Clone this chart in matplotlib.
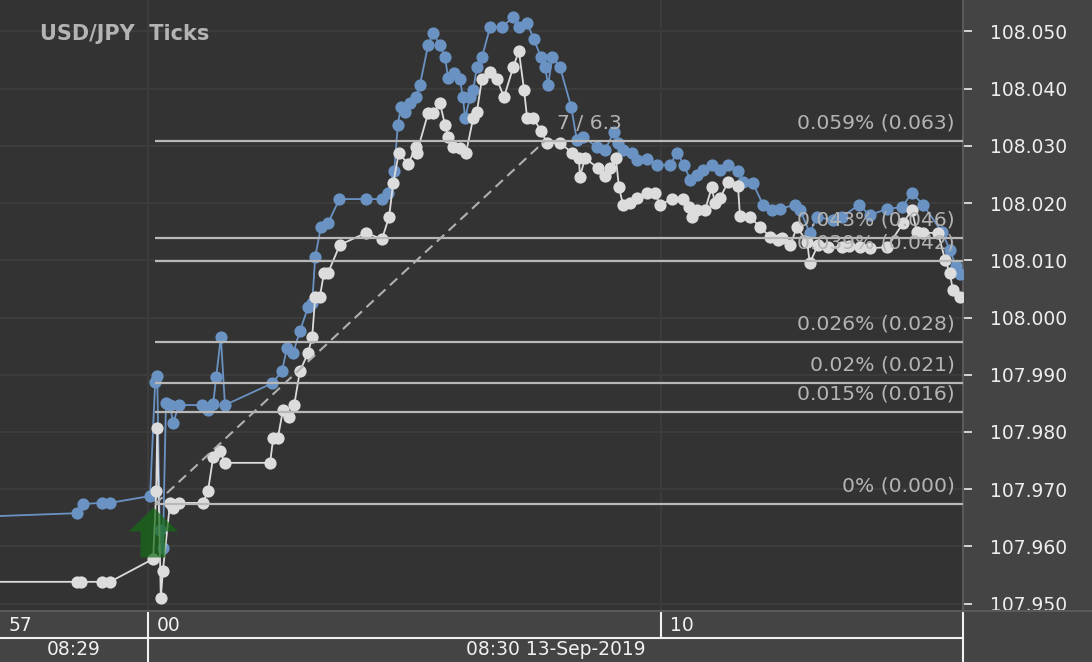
import matplotlib
matplotlib.use('Agg')
import matplotlib.pyplot as plt
from matplotlib.path import Path

# ---------------- data ----------------
# time in seconds relative to 08:30:00, price in JPY
ask_t = [-3.5, -1.38, -1.27, -0.90, -0.74, 0.04, 0.14, 0.18, 0.23, 0.29, 0.35, 0.43, 0.49, 0.60,
         1.06, 1.17, 1.27, 1.33, 1.42, 1.50, 2.42, 2.61, 2.71, 2.83, 2.96, 3.12, 3.20, 3.26, 3.37,
         3.51, 3.73, 4.25, 4.56, 4.68, 4.80, 4.87, 4.93, 5.01, 5.11, 5.22, 5.30, 5.46, 5.56, 5.69,
         5.79, 5.85, 5.97, 6.08, 6.14, 6.18, 6.28, 6.34, 6.41, 6.51, 6.67, 6.90, 7.12, 7.23, 7.39,
         7.52, 7.66, 7.74, 7.80, 7.88, 8.03, 8.25, 8.36, 8.48, 8.75, 8.91, 9.08, 9.16, 9.26, 9.44,
         9.53, 9.73, 9.92, 10.18, 10.31, 10.45, 10.57, 10.70, 10.82, 10.99, 11.15, 11.31, 11.50,
         11.60, 11.79, 11.99, 12.16, 12.32, 12.61, 12.71, 12.90, 13.04, 13.35, 13.53, 13.86, 14.07,
         14.41, 14.70, 14.89, 15.11, 15.48, 15.63, 15.75, 15.83]
ask_p = [107.9651, 107.9658, 107.9674, 107.9676, 107.9676, 107.9688, 107.9887, 107.9898, 107.9628,
         107.9597, 107.9850, 107.9847, 107.9815, 107.9847, 107.9847, 107.9838, 107.9849, 107.9896,
         107.9966, 107.9847, 107.9885, 107.9906, 107.9947, 107.9938, 107.9976, 108.0018, 108.0025,
         108.0106, 108.0158, 108.0165, 108.0207, 108.0207, 108.0207, 108.0218, 108.0256, 108.0337,
         108.0368, 108.0359, 108.0375, 108.0385, 108.0406, 108.0476, 108.0497, 108.0476, 108.0455,
         108.0419, 108.0427, 108.0417, 108.0385, 108.0349, 108.0385, 108.0398, 108.0438, 108.0455,
         108.0508, 108.0508, 108.0525, 108.0508, 108.0515, 108.0487, 108.0455, 108.0438, 108.0406,
         108.0455, 108.0438, 108.0368, 108.0310, 108.0316, 108.0298, 108.0293, 108.0324, 108.0305,
         108.0293, 108.0288, 108.0275, 108.0277, 108.0267, 108.0267, 108.0288, 108.0267, 108.0240,
         108.0249, 108.0258, 108.0267, 108.0258, 108.0267, 108.0256, 108.0237, 108.0235, 108.0197,
         108.0188, 108.0190, 108.0197, 108.0188, 108.0148, 108.0176, 108.0170, 108.0176, 108.0197,
         108.0179, 108.0190, 108.0193, 108.0218, 108.0197, 108.0149, 108.0118, 108.0090, 108.0076]

bid_t = [-3.5, -1.38, -1.30, -0.90, -0.74, 0.10, 0.16, 0.18, 0.25, 0.29, 0.43, 0.49, 0.60, 1.07,
         1.17, 1.27, 1.40, 1.50, 2.38, 2.44, 2.53, 2.63, 2.75, 2.85, 2.96, 3.12, 3.20, 3.26, 3.35,
         3.43, 3.51, 3.74, 4.25, 4.56, 4.70, 4.78, 4.89, 5.07, 5.22, 5.24, 5.46, 5.56, 5.69, 5.79,
         5.85, 5.95, 6.08, 6.20, 6.34, 6.41, 6.51, 6.67, 6.80, 6.94, 7.12, 7.23, 7.33, 7.39, 7.51,
         7.66, 7.78, 8.03, 8.27, 8.40, 8.42, 8.52, 8.77, 8.91, 9.01, 9.12, 9.18, 9.26, 9.40, 9.53,
         9.73, 9.88, 9.98, 10.21, 10.43, 10.55, 10.60, 10.70, 10.86, 10.99, 11.05, 11.15, 11.31,
         11.50, 11.54, 11.74, 11.93, 12.13, 12.28, 12.36, 12.52, 12.65, 12.85, 12.90, 13.06, 13.26,
         13.53, 13.67, 13.88, 14.07, 14.41, 14.72, 14.89, 14.99, 15.11, 15.40, 15.54, 15.63, 15.69,
         15.83]
bid_p = [107.9538, 107.9538, 107.9538, 107.9538, 107.9538, 107.9578, 107.9697, 107.9807, 107.9510,
         107.9557, 107.9676, 107.9667, 107.9676, 107.9676, 107.9697, 107.9756, 107.9767, 107.9746,
         107.9746, 107.9789, 107.9789, 107.9838, 107.9826, 107.9847, 107.9906, 107.9938, 107.9966,
         108.0036, 108.0036, 108.0078, 108.0078, 108.0127, 108.0148, 108.0137, 108.0176, 108.0235,
         108.0288, 108.0268, 108.0298, 108.0288, 108.0357, 108.0357, 108.0375, 108.0337, 108.0316,
         108.0298, 108.0296, 108.0288, 108.0349, 108.0359, 108.0417, 108.0429, 108.0417, 108.0385,
         108.0438, 108.0466, 108.0398, 108.0349, 108.0349, 108.0326, 108.0305, 108.0305, 108.0288,
         108.0279, 108.0246, 108.0279, 108.0261, 108.0247, 108.0261, 108.0279, 108.0228, 108.0197,
         108.0200, 108.0209, 108.0218, 108.0218, 108.0197, 108.0207, 108.0207, 108.0193, 108.0176,
         108.0188, 108.0188, 108.0228, 108.0200, 108.0209, 108.0237, 108.0230, 108.0177, 108.0176,
         108.0158, 108.0141, 108.0135, 108.0139, 108.0127, 108.0158, 108.0132, 108.0095, 108.0127,
         108.0123, 108.0123, 108.0125, 108.0123, 108.0121, 108.0123, 108.0165, 108.0188, 108.0149,
         108.0148, 108.0148, 108.0100, 108.0078, 108.0048, 108.0036]

fib_levels = [107.9674, 107.9835, 107.9886, 107.9957, 108.0099, 108.0139, 108.0309]
fib_labels = ["0% (0.000)", "0.015% (0.016)", "0.02% (0.021)", "0.026% (0.028)",
              "0.039% (0.042)", "0.043% (0.046)", "0.059% (0.063)"]
fib_start_t = 0.14
trend_t = [0.14, 7.74]
trend_p = [107.9674, 108.0309]
trend_label = "7 / 6.3"
signal_t = [0.088]
signal_p = [107.9625]

price_ticks = [107.950, 107.960, 107.970, 107.980, 107.990, 108.000,
               108.010, 108.020, 108.030, 108.040, 108.050]
price_labels = ["107.950", "107.960", "107.970", "107.980", "107.990", "108.000",
                "108.010", "108.020", "108.030", "108.040", "108.050"]
minor_ticks = [-3, 0, 10]
minor_labels = ["57", "00", "10"]
major_labels = ["08:29", "08:30 13-Sep-2019"]
title = "USD/JPY  Ticks"

# ---------------- style ----------------
W, H = 1092, 662
BG_PLOT = '#333333'
BG_PANEL = '#444444'
BLUE = '#6a93c4'
WHITE = '#dcdcdc'
FIB = '#b8b8b8'
TXT = '#b4b4b4'
TICKTXT = '#eeeeee'

xmin, xmax = -2.885, 15.887
ymin, ymax = 107.9487, 108.0555

fig = plt.figure(figsize=(W / 100, H / 100), dpi=100, facecolor=BG_PANEL)
plot_w, plot_h = 963, 611
ax = fig.add_axes([0, (H - plot_h) / H, plot_w / W, plot_h / H])
ax.set_facecolor(BG_PLOT)
ax.set_xlim(xmin, xmax)
ax.set_ylim(ymin, ymax)

ax.set_yticks(price_ticks)
ax.set_yticklabels(price_labels)
ax.set_xticks([0, 10])
ax.yaxis.tick_right()
ax.tick_params(axis='y', length=6.5, width=1.3, color='#e0e0e0', pad=13,
               labelcolor=TICKTXT, labelsize=13.5)
ax.tick_params(axis='x', length=0, labelbottom=False)
ax.grid(True, color='#3c3c3c', lw=1.5, zorder=0)
ax.set_axisbelow(True)
for s in ['top', 'left']:
    ax.spines[s].set_visible(False)
for s in ['right', 'bottom']:
    ax.spines[s].set_color('#5a5a5a')
    ax.spines[s].set_linewidth(1.5)

# series
ax.plot(ask_t, ask_p, '-o', color=BLUE, lw=1.3, ms=8.8, mec=BLUE, mew=0, zorder=3)
ax.plot(bid_t, bid_p, '-o', color=WHITE, lw=1.3, ms=8.8, mec=WHITE, mew=0, zorder=3.5)

# fib levels
for lvl, lbl in zip(fib_levels, fib_labels):
    ax.plot([fib_start_t, xmax], [lvl, lvl], color=FIB, lw=1.6, zorder=5, solid_capstyle='butt')
    ax.annotate(lbl, (15.73, lvl), xytext=(0, 13), textcoords='offset points',
                ha='right', va='center', color=TXT, fontsize=14.6, zorder=6)

# trend line
ax.plot(trend_t, trend_p, color='#b0b0b0', lw=1.5, ls=(0, (4.8, 2.9)), zorder=5)
ax.text(7.97, 108.0340, trend_label, ha='left', va='center', color=TXT, fontsize=14.6, zorder=6)

# signal arrow
arrow_verts = [(0, 25), (24.5, 1), (12, 1), (12, -25), (-13, -25), (-13, 1), (-24.5, 1), (0, 25)]
arrow_path = Path(arrow_verts, closed=True)
ax.plot(signal_t, signal_p, ls='none', marker=arrow_path, ms=36,
        color=(21 / 255, 107 / 255, 21 / 255), alpha=0.7, mew=0, zorder=7)

# title
ax.text(40 / plot_w, 1 - 34 / plot_h, title, transform=ax.transAxes, ha='left', va='center',
        color=TXT, fontsize=15, fontweight='bold', zorder=8)

# ---------------- bottom time panel ----------------
panel_h = H - plot_h
bax = fig.add_axes([0, 0, 1, panel_h / H])
bax.set_facecolor(BG_PANEL)
xfull = xmin + (xmax - xmin) * W / plot_w
bax.set_xlim(xmin, xfull)
bax.set_ylim(0, 1)
bax.set_xticks([])
bax.set_yticks([])
for s in ['left', 'right', 'bottom']:
    bax.spines[s].set_visible(False)
bax.spines['top'].set_color('#5a5a5a')
bax.spines['top'].set_linewidth(1.5)

LW = '#f0f0f0'
bax.plot([xmin, xmax], [0.47, 0.47], color=LW, lw=1.5)
bax.plot([0, 0], [0, 0.96], color=LW, lw=1.5)
bax.plot([10, 10], [0.47, 0.96], color=LW, lw=1.5)
bax.plot([xmax, xmax], [0, 0.96], color=LW, lw=1.5)

for t, lbl in zip(minor_ticks, minor_labels):
    xpos = max(t, xmin)
    bax.annotate(lbl, (xpos, 0.72), xytext=(6.5, 0), textcoords='offset points',
                 ha='left', va='center', color=LW, fontsize=13.5)
bax.text((xmin + 0) / 2, 0.24, major_labels[0], ha='center', va='center', color=LW, fontsize=13.5)
bax.text((0 + xmax) / 2, 0.24, major_labels[1], ha='center', va='center', color=LW, fontsize=13.5)

fig.savefig('out.png', dpi=100, facecolor=BG_PANEL)
